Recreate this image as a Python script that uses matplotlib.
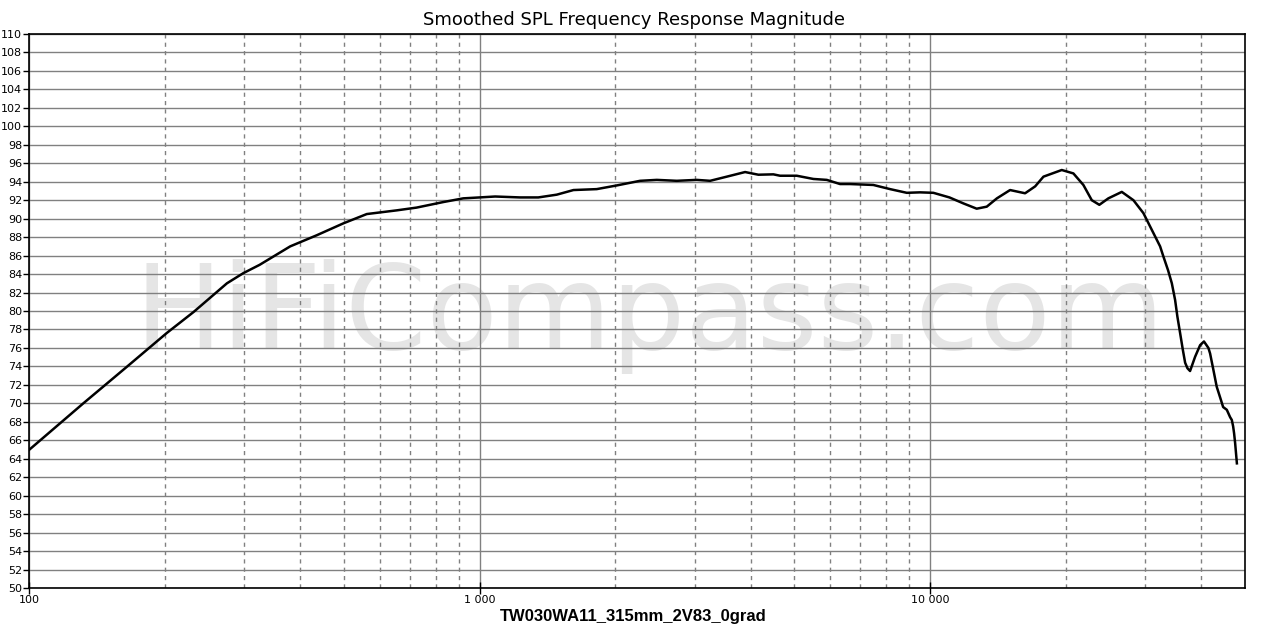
import matplotlib
matplotlib.use("Agg")
import matplotlib.pyplot as plt
from matplotlib.ticker import FixedLocator, NullFormatter, FixedFormatter

freq_hz = [100, 132, 165, 202, 232, 275, 299, 325, 380, 435, 499, 562, 655, 725, 831, 920,
           1000, 1083, 1230, 1350, 1484, 1616, 1820, 2017, 2272, 2474, 2740, 3035, 3249,
           3538, 3885, 4158, 4489, 4645, 5059, 5508, 5898, 6312, 6643, 7483, 8152, 8877,
           9499, 10170, 11040, 11860, 12690, 13360, 14070, 15050, 16250, 17110, 17850,
           19600, 20800, 21890, 22850, 23750, 24870, 26640, 28270, 29750, 30680, 32400,
           32950, 33750, 34400, 34980, 35390, 35890, 36390, 36820, 37260, 37760, 38750,
           39750, 40540, 41470, 41830, 42550, 43270, 44190, 44710, 45560, 46340, 46740,
           47060, 47290, 47540, 47970]
spl_db = [64.95, 70.0, 73.97, 77.6, 79.9, 83.0, 84.1, 85.0, 87.0, 88.2, 89.5, 90.5, 90.9, 91.2,
          91.8, 92.2, 92.3, 92.4, 92.3, 92.3, 92.6, 93.1, 93.2, 93.6, 94.1, 94.2, 94.1, 94.2,
          94.1, 94.55, 95.05, 94.76, 94.8, 94.65, 94.65, 94.3, 94.2, 93.75, 93.75, 93.65,
          93.2, 92.8, 92.85, 92.8, 92.3, 91.65, 91.08, 91.3, 92.2, 93.1, 92.75, 93.5, 94.55,
          95.27, 94.9, 93.65, 92.0, 91.5, 92.2, 92.9, 92.0, 90.6, 89.3, 87.0,
          85.9, 84.4, 83.0, 81.2, 79.4, 77.6, 75.8, 74.4, 73.8, 73.5, 75.05,
          76.3, 76.7, 76.0, 75.4, 73.6, 71.8, 70.4, 69.6, 69.3, 68.5, 68.2,
          67.5, 66.75, 65.7, 63.5]

x_major = [100, 1000, 10000]
x_major_labels = ["100", "1 000", "10 000"]
x_minor = [m * d for d in (100, 1000, 10000) for m in range(2, 10) if m * d < 50000]
y_ticks = list(range(50, 111, 2))

title = "Smoothed SPL Frequency Response Magnitude"
xlabel = "TW030WA11_315mm_2V83_0grad"
watermark = "HiFiCompass.com"

fig = plt.figure(figsize=(12.76, 6.35), dpi=100)
ax = fig.add_axes([29 / 1276, 47 / 635, (1245 - 29) / 1276, (588 - 34) / 635])
ax.set_xscale("log")
ax.set_xlim(100, 50000)
ax.set_ylim(50, 110)

# grid
for y in y_ticks:
    ax.axhline(y, color="#808080", lw=1.0, zorder=1)
for x in x_major:
    ax.axvline(x, color="#808080", lw=1.0, zorder=1)
for x in x_minor:
    ax.axvline(x, color="#808080", lw=1.0, ls=(0, (3, 3)), zorder=1)

ax.text((650 - 29) / 1216, (588 - 349) / 554, watermark, transform=ax.transAxes,
        ha="center", va="baseline", fontsize=84, color="#e5e5e5",
        family="DejaVu Sans", zorder=0.5)

ax.plot(freq_hz, spl_db, color="black", lw=1.8, zorder=3, solid_joinstyle="round")

ax.xaxis.set_major_locator(FixedLocator(x_major))
ax.xaxis.set_major_formatter(FixedFormatter(x_major_labels))
ax.xaxis.set_minor_locator(FixedLocator([]))
ax.xaxis.set_minor_formatter(NullFormatter())
ax.set_yticks(y_ticks)
ax.set_yticklabels([str(v) for v in y_ticks])
ax.tick_params(axis="both", direction="out", length=4, width=1, labelsize=8, pad=1)
ax.tick_params(axis="x", direction="inout", length=8)
for s in ax.spines.values():
    s.set_color("black")
    s.set_linewidth(1.2)
    s.set_zorder(4)

fig.text(634 / 1276, 1 - 20 / 635, title, ha="center", va="center", fontsize=13)
fig.text(633 / 1276, 1 - 617 / 635, xlabel, ha="center", va="center", fontsize=12,
         family="Liberation Sans", fontweight="bold")

fig.savefig("out.png", dpi=100, facecolor="white")
